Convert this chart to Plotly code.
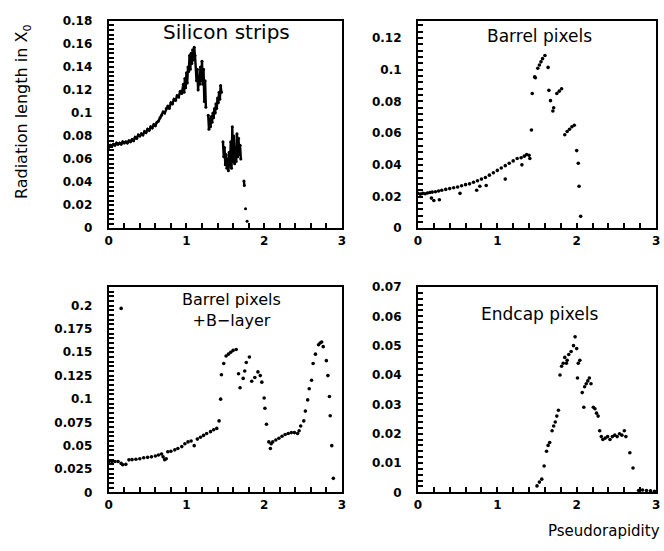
import plotly.graph_objects as go

# ---------------- data ----------------
# Panel 1: Silicon strips (None = gap)
si_eta = [0.00,0.02,0.04,0.06,0.08,0.10,0.12,0.14,0.16,0.18,0.20,0.22,0.24,0.26,0.28,0.30,0.32,0.34,0.36,0.38,
          0.40,0.42,0.44,0.46,0.48,0.50,0.52,0.54,0.56,0.58,0.60,0.62,0.64,0.66,0.68,0.70,0.72,0.74,0.76,0.78,
          0.80,0.82,0.84,0.86,0.88,0.90,0.92,0.94,0.96,0.97,0.98,0.99,1.00,1.01,1.02,1.03,1.04,1.05,1.06,1.07,
          1.08,1.09,1.10,1.11,1.13,1.14,1.15,1.16,1.17,1.18,1.19,1.20,1.21,1.22,1.23,1.24,1.25,None,
          1.28,1.29,1.30,1.31,1.32,1.33,1.34,1.35,1.36,1.37,1.38,1.39,1.40,1.41,1.42,1.43,1.44,1.45,None,
          1.47,1.48,1.49,1.50,1.51,1.52,1.53,1.54,1.55,1.56,1.57,1.58,1.59,1.60,1.61,1.62,1.63,1.64,1.65,1.66,
          1.67,1.68,1.69,1.70,None,1.740,1.745,None,1.76,None,1.78]
si_val = [0.070,0.072,0.071,0.073,0.072,0.074,0.073,0.074,0.073,0.075,0.074,0.075,0.074,0.076,0.075,0.077,0.076,0.079,0.078,0.081,
          0.080,0.082,0.081,0.084,0.083,0.086,0.085,0.088,0.087,0.090,0.089,0.092,0.093,0.096,0.098,0.101,0.100,0.104,0.106,0.104,
          0.109,0.108,0.112,0.111,0.115,0.114,0.119,0.117,0.125,0.118,0.130,0.122,0.135,0.126,0.140,0.136,0.150,0.138,0.152,0.143,
          0.155,0.146,0.157,0.150,0.128,0.138,0.120,0.132,0.125,0.140,0.128,0.145,0.125,0.138,0.110,0.128,0.105,None,
          0.098,0.086,0.095,0.088,0.097,0.092,0.100,0.096,0.104,0.100,0.108,0.104,0.113,0.109,0.118,0.112,0.124,0.118,None,
          0.075,0.062,0.070,0.055,0.064,0.052,0.060,0.050,0.066,0.054,0.075,0.052,0.088,0.058,0.080,0.056,0.070,0.058,0.082,0.062,
          0.078,0.064,0.072,0.060,None,0.041,0.037,None,0.017,None,0.006]

# Panel 2: Barrel pixels
bp_eta = [0.00,0.03,0.06,0.09,0.12,0.15,0.17,0.18,0.20,0.22,0.26,0.27,0.30,0.35,0.40,0.45,0.50,0.53,0.55,0.60,
          0.65,0.70,0.74,0.75,0.78,0.80,0.85,0.86,0.90,0.95,1.00,1.05,1.10,1.10,1.15,1.20,1.25,1.30,1.31,1.34,
          1.37,1.40,1.41,1.43,1.44,1.47,1.48,1.51,1.53,1.55,1.57,1.60,1.64,1.65,1.67,1.70,1.71,1.75,1.78,1.81,
          1.85,1.88,1.91,1.94,1.97,2.00,2.02,2.03,2.05]
bp_val = [0.022,0.0215,0.022,0.0218,0.0222,0.0225,0.019,0.0228,0.0175,0.023,0.0235,0.018,0.024,0.0245,0.025,0.0255,0.026,0.022,0.0268,0.0275,
          0.028,0.029,0.024,0.030,0.0265,0.031,0.032,0.027,0.0335,0.035,0.0365,0.038,0.0395,0.031,0.041,0.0425,0.044,0.0445,0.040,0.0455,
          0.0465,0.046,0.044,0.062,0.085,0.0955,0.095,0.101,0.103,0.105,0.107,0.109,0.1015,0.087,0.0805,0.074,0.076,0.085,0.0865,0.088,
          0.059,0.061,0.0625,0.064,0.065,0.049,0.041,0.0265,0.0075]

# Panel 3: Barrel pixels + B-layer
bb_eta = [0.00,0.04,0.08,0.12,0.16,0.16,0.18,0.22,0.26,0.30,0.35,0.40,0.45,0.50,0.55,0.60,0.64,0.68,0.70,0.72,
          0.74,0.76,0.80,0.85,0.89,0.94,0.98,1.02,1.06,1.10,1.14,1.18,1.22,1.26,1.31,1.35,1.39,1.42,1.44,1.45,
          1.48,1.51,1.54,1.57,1.60,1.64,1.67,1.69,1.73,1.75,1.77,1.81,1.84,1.88,1.92,1.95,1.97,2.00,2.01,2.03,
          2.06,2.08,2.09,2.11,2.15,2.19,2.23,2.27,2.31,2.35,2.39,2.43,2.45,2.47,2.51,2.53,2.56,2.58,2.61,2.63,
          2.66,2.70,2.72,2.74,2.76,2.80,2.82,2.84,2.85,2.87,2.89]
bb_val = [0.033,0.033,0.033,0.033,0.031,0.197,0.0296,0.030,0.0348,0.035,0.0355,0.036,0.037,0.0375,0.038,0.039,0.040,0.041,0.038,0.035,
          0.036,0.0435,0.044,0.0455,0.047,0.049,0.052,0.054,0.055,0.050,0.057,0.059,0.061,0.063,0.065,0.067,0.0685,0.0765,0.0998,0.126,
          0.138,0.146,0.148,0.150,0.152,0.153,0.127,0.112,0.122,0.130,0.139,0.145,0.119,0.123,0.129,0.125,0.118,0.101,0.090,0.073,
          0.054,0.047,0.052,0.054,0.056,0.058,0.060,0.062,0.063,0.064,0.064,0.063,0.066,0.071,0.0765,0.087,0.099,0.111,0.120,0.138,
          0.148,0.158,0.160,0.161,0.156,0.141,0.125,0.1026,0.082,0.050,0.015]

# Panel 4: Endcap pixels
ec_eta = [1.50,1.53,1.56,1.59,1.62,1.64,1.66,1.69,1.71,1.73,1.75,1.77,1.79,1.81,1.83,1.85,1.87,1.88,1.90,1.93,
          1.96,1.98,2.00,2.01,2.02,2.04,2.07,2.09,2.10,2.12,2.14,2.16,2.18,2.21,2.23,2.25,2.27,2.29,2.31,2.33,
          2.36,2.39,2.42,2.45,2.48,2.51,2.54,2.57,2.60,2.62,2.67,2.71,2.78,2.83,2.88,2.93,2.98]
ec_val = [0.0022,0.0035,0.0045,0.009,0.014,0.016,0.017,0.021,0.0226,0.024,0.026,0.028,0.040,0.043,0.044,0.046,0.044,0.045,0.047,0.048,
          0.050,0.053,0.049,0.039,0.044,0.045,0.034,0.029,0.036,0.037,0.038,0.039,0.037,0.029,0.0285,0.027,0.026,0.021,0.019,0.018,
          0.0185,0.019,0.018,0.019,0.0195,0.019,0.020,0.0195,0.021,0.019,0.0135,0.0083,0.0006,0.0008,0.0006,0.0005,0.0004]

titles = ["Silicon strips", "Barrel pixels", "Barrel pixels<br>+B\u2212layer", "Endcap pixels"]
y_ranges = [0.1802, 0.131, 0.2202, 0.0701]
y_dticks = [0.02, 0.02, 0.025, 0.01]
y_minor = [0.004, 0.004, 0.005, 0.002]
x_max = 3
x_dtick = 1
x_minor = 0.2


def tick_arrays(top, major, minor):
    """All tick positions (every minor step) with labels only on the major ones."""
    vals, texts = [], []
    n = int(round(top / minor + 1e-9))
    for k in range(n + 1):
        v = round(k * minor, 6)
        if v > top + 1e-9:
            break
        vals.append(v)
        r = v / major
        texts.append(f"{v:g}" if abs(r - round(r)) < 1e-6 else "")
    return vals, texts


# ---------------- figure ----------------
W, H = 664, 551
xdoms = [(106, 342), (419, 660), (106, 342), (419, 660)]
ydoms = [(14, 227), (14, 227), (287, 498), (287, 498)]
tickfont = dict(family="DejaVu Sans", size=12, color="black", weight="bold")

fig = go.Figure()
series = [(si_eta, si_val), (bp_eta, bp_val), (bb_eta, bb_val), (ec_eta, ec_val)]
for i, (ex, ev) in enumerate(series):
    xa = "x" if i == 0 else f"x{i+1}"
    ya = "y" if i == 0 else f"y{i+1}"
    if i == 0:
        fig.add_trace(go.Scatter(x=ex, y=ev, mode="lines+markers", line=dict(color="black", width=2.4),
                                 marker=dict(color="black", size=3), xaxis=xa, yaxis=ya))
    else:
        fig.add_trace(go.Scatter(x=ex, y=ev, mode="markers", marker=dict(color="black", size=3.6),
                                 xaxis=xa, yaxis=ya))

xv, xt = tick_arrays(x_max, x_dtick, x_minor)

layout = dict(width=W, height=H, margin=dict(l=0, r=0, t=0, b=0), plot_bgcolor="white", showlegend=False)
for i in range(4):
    sx = "xaxis" if i == 0 else f"xaxis{i+1}"
    sy = "yaxis" if i == 0 else f"yaxis{i+1}"
    xa = "x" if i == 0 else f"x{i+1}"
    ya = "y" if i == 0 else f"y{i+1}"
    yv, yt = tick_arrays(y_ranges[i], y_dticks[i], y_minor[i])
    layout[sx] = dict(domain=[xdoms[i][0]/W, xdoms[i][1]/W], range=[0, x_max], anchor=ya,
                      tickmode="array", tickvals=xv, ticktext=xt,
                      ticks="inside", ticklen=5, tickwidth=2, tickcolor="black",
                      showline=True, linewidth=2, linecolor="black", mirror=True, showgrid=False, zeroline=False,
                      tickfont=tickfont)
    layout[sy] = dict(domain=[1-ydoms[i][1]/H, 1-ydoms[i][0]/H], range=[0, y_ranges[i]], anchor=xa,
                      tickmode="array", tickvals=yv, ticktext=yt,
                      ticks="inside", ticklen=5, tickwidth=2, tickcolor="black",
                      showline=True, linewidth=2, linecolor="black", mirror=True, showgrid=False, zeroline=False,
                      tickfont=tickfont, ticklabelstandoff=12)


def ann(text, x, y, size, **kw):
    d = dict(text=text, x=x / W, y=1 - y / H, xref="paper", yref="paper", showarrow=False,
             xanchor="center", yanchor="middle", font=dict(family="DejaVu Sans", size=size, color="black"))
    d.update(kw)
    return d


layout["annotations"] = [
    ann(titles[0], 225, 26, 20),
    ann(titles[1], 542, 30, 17),
    ann(titles[2], 230, 311, 16),
    ann(titles[3], 543, 315, 17),
    ann("Pseudorapidity", 607, 538, 15),
    ann("Radiation length in X<sub>0</sub>", 19, 107, 16, textangle=-90),
]
fig.update_layout(**layout)
fig.write_html("out.html")
